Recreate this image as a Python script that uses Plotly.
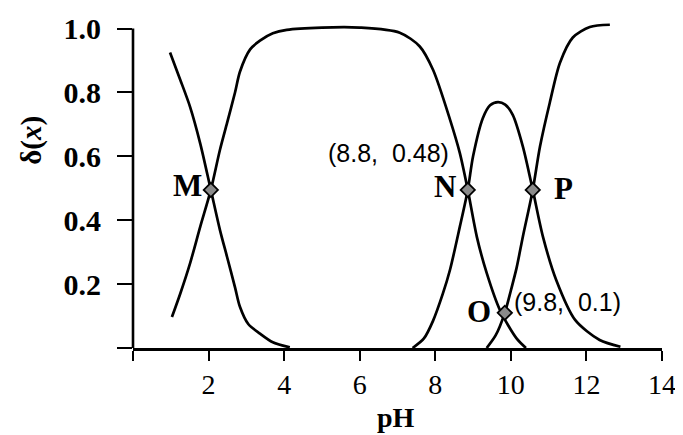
import plotly.graph_objects as go

# Curve A: decreasing species (low pH)
ph_a = [0.98, 1.25, 1.51, 1.78, 2.06, 2.3, 2.49, 2.7, 2.83, 3.05, 3.36, 3.7, 4.15]
d_a = [0.925, 0.84, 0.755, 0.64, 0.495, 0.37, 0.285, 0.19, 0.129, 0.075, 0.045, 0.018, 0.002]

# Curve B: plateau species
ph_b = [1.03, 1.25, 1.51, 1.78, 2.06, 2.3, 2.49, 2.7, 2.83, 3.1, 3.36, 3.7, 4.07, 5.0, 6.0,
        7.06, 7.59, 7.94, 8.39, 8.65, 8.86, 9.1, 9.36, 9.71, 10.15, 10.4]
d_b = [0.097, 0.17, 0.265, 0.38, 0.495, 0.62, 0.705, 0.8, 0.865, 0.935, 0.962, 0.985, 0.996, 1.003, 1.003,
       0.987, 0.944, 0.871, 0.715, 0.61, 0.495, 0.348, 0.235, 0.119, 0.03, 0.0]

# Curve C: peak species
ph_c = [7.4, 7.7, 7.94, 8.2, 8.39, 8.65, 8.86, 9.0, 9.26, 9.45, 9.66, 9.85, 10.05, 10.32,
        10.58, 10.85, 11.2, 11.7, 12.35, 12.9]
d_c = [0.0, 0.03, 0.085, 0.17, 0.245, 0.38, 0.495, 0.6, 0.72, 0.76, 0.77, 0.762, 0.73, 0.63,
       0.495, 0.348, 0.213, 0.088, 0.025, 0.004]

# Curve D: high pH species
ph_d = [9.36, 9.6, 9.84, 10.0, 10.15, 10.32, 10.58, 10.77, 11.03, 11.3, 11.64, 12.09, 12.62]
d_d = [0.0, 0.04, 0.11, 0.18, 0.25, 0.35, 0.495, 0.63, 0.768, 0.893, 0.972, 1.005, 1.012]

# Marked points
pt_names = ["M", "N", "O", "P"]
pt_x = [2.06, 8.86, 9.84, 10.58]
pt_y = [0.495, 0.495, 0.11, 0.495]

x_ticks = [0, 2, 4, 6, 8, 10, 12, 14]
x_labels = ["", "2", "4", "6", "8", "10", "12", "14"]
y_ticks = [0, 0.2, 0.4, 0.6, 0.8, 1.0]
y_labels = ["", "0.2", "0.4", "0.6", "0.8", "1.0"]

serif = "Liberation Serif"
sans = "Liberation Sans"

fig = go.Figure()
for xs, ys in [(ph_a, d_a), (ph_b, d_b), (ph_c, d_c), (ph_d, d_d)]:
    fig.add_trace(go.Scatter(x=xs, y=ys, mode="lines", line=dict(color="black", width=2.7, shape="spline", smoothing=0.8),
                             hoverinfo="skip", showlegend=False))

fig.add_trace(go.Scatter(x=pt_x, y=pt_y, mode="markers",
                         marker=dict(symbol="diamond", size=11, color="#8a8a8a", line=dict(color="black", width=1.8)),
                         showlegend=False, cliponaxis=False))

ann = []
def lab(text, x, y, xanchor, size=31, font=serif, bold=True, ref="data"):
    xr, yr = ("x", "y") if ref == "data" else ("paper", "paper")
    ann.append(dict(text=("<b>%s</b>" % text) if bold else text, x=x, y=y, xref=xr, yref=yr,
                    xanchor=xanchor, yanchor="middle", showarrow=False,
                    font=dict(family=font, size=size, color="black")))

lab(pt_names[0], 1.88, 0.508, "right")
lab(pt_names[1], 8.6, 0.505, "right")
lab(pt_names[2], 9.52, 0.113, "right")
lab(pt_names[3], 11.08, 0.5, "left")
lab("(8.8,  0.48)", 6.77, 0.611, "center", size=25, font=sans, bold=False)
lab("(9.8,  0.1)", 10.02, 0.144, "left", size=25, font=sans, bold=False)
lab("pH", 0.497, -0.212, "center", size=28, ref="paper")
ann.append(dict(text="<b>δ(<i>x</i>)</b>", x=-0.191, y=0.633, xref="paper", yref="paper", textangle=-90,
                xanchor="center", yanchor="middle", showarrow=False,
                font=dict(family=serif, size=29, color="black")))

fig.update_layout(annotations=ann)

# y-axis line from 0 to 1.0
fig.add_shape(type="line", xref="paper", yref="y", x0=0, x1=0, y0=0, y1=1.0,
              line=dict(color="black", width=2.6))

fig.update_xaxes(range=[0, 14], tickvals=x_ticks, ticktext=x_labels, ticks="outside", ticklen=10,
                 tickwidth=2.4, tickcolor="black", showline=True, linecolor="black", linewidth=2.6,
                 showgrid=False, zeroline=False, automargin=False,
                 tickfont=dict(family=serif, size=28, color="black"))
fig.update_yaxes(range=[0, 1.03], tickvals=y_ticks, ticktext=["<b>%s</b>" % t for t in y_labels],
                 ticks="outside", ticklen=15, tickwidth=2.4, tickcolor="black", showline=False,
                 showgrid=False, zeroline=False, automargin=False, ticklabelstandoff=10,
                 tickfont=dict(family=serif, size=30, color="black"))

# page body has an 8px margin, so the figure is sized/offset to compensate
fig.update_layout(width=675, height=427, margin=dict(l=125, r=21, t=11.4, b=87, autoexpand=False),
                  paper_bgcolor="white", plot_bgcolor="white")

fig.write_html("out.html")
